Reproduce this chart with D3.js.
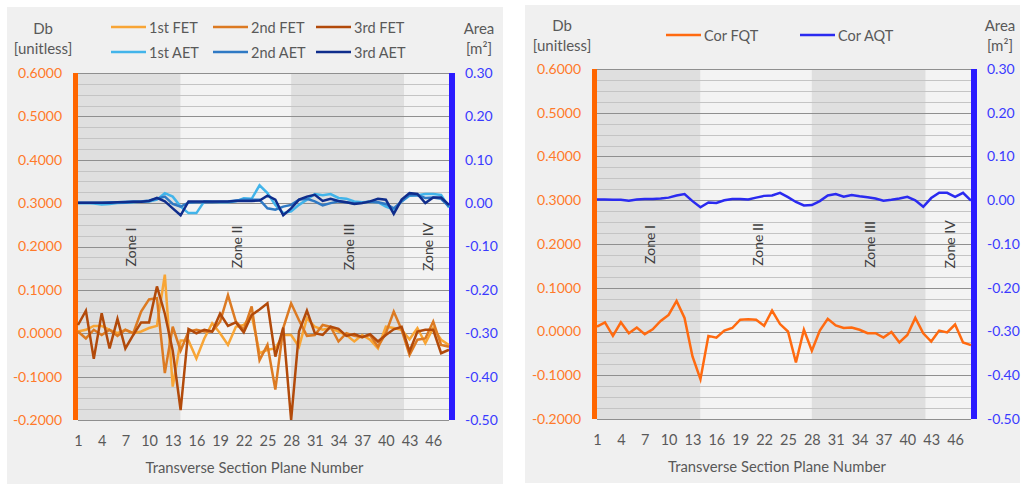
<!DOCTYPE html>
<html><head><meta charset="utf-8">
<script src="https://cdn.jsdelivr.net/npm/d3@7"></script>
<style>body{margin:0;background:#fff;} text{font-family:Lato, "Liberation Sans", sans-serif;}</style>
</head><body><svg id="c" width="1021" height="485"></svg>
<script>
// ---------- data ----------
const planes = [1,2,3,4,5,6,7,8,9,10,11,12,13,14,15,16,17,18,19,20,21,22,23,24,25,26,27,28,29,30,31,32,33,34,35,36,37,38,39,40,41,42,43,44,45,46,47,48];
const xTickLabels = [1,4,7,10,13,16,19,22,25,28,31,34,37,40,43,46];
const dbTicks = [0.6,0.5,0.4,0.3,0.2,0.1,0.0,-0.1,-0.2];
const areaTicks = [0.3,0.2,0.1,0.0,-0.1,-0.2,-0.3,-0.4,-0.5];
const zoneNames = ["Zone I","Zone II","Zone III","Zone IV"];
const zoneEdges = [1,14,28,42.3,48];

const fet1 = [0.004,0.008,0.017,0.017,0.008,0.000,0.008,0.000,0.004,0.012,0.017,0.135,-0.123,-0.017,-0.017,-0.058,-0.012,0.023,0.000,-0.027,0.015,0.019,0.042,-0.046,-0.038,-0.035,-0.004,-0.004,-0.031,0.035,0.015,0.008,0.012,0.004,-0.004,-0.019,-0.004,-0.015,-0.035,0.015,0.012,0.008,-0.014,0.012,-0.023,0.012,-0.015,-0.027];
const fet2 = [0.004,-0.012,0.008,-0.004,0.008,-0.006,0.008,0.000,0.050,0.078,0.081,-0.092,0.015,-0.040,0.004,0.008,0.004,0.004,0.027,0.088,0.027,0.008,0.062,-0.062,-0.027,-0.130,0.012,0.069,0.030,-0.006,-0.004,0.019,0.015,-0.019,0.000,-0.006,-0.009,-0.004,-0.031,0.000,0.050,0.008,-0.050,-0.015,-0.012,0.027,-0.027,-0.031];
const fet3 = [0.019,0.052,-0.059,0.046,-0.035,0.033,-0.035,-0.004,0.025,0.025,0.108,0.045,-0.040,-0.177,0.010,0.000,0.008,0.004,0.045,0.017,0.025,0.002,0.042,0.055,0.069,-0.054,0.013,-0.200,0.004,0.052,0.000,-0.004,0.015,0.010,-0.006,-0.002,-0.009,-0.002,-0.019,-0.004,0.009,0.015,-0.042,0.004,0.008,0.008,-0.046,-0.038];
const aet1 = [0.000,0.000,-0.001,-0.003,-0.002,0.000,0.001,0.002,0.003,0.004,0.008,0.023,0.015,-0.008,-0.023,-0.023,0.004,0.003,0.002,0.002,0.004,0.011,0.010,0.041,0.023,-0.004,-0.023,-0.019,-0.004,0.008,0.021,0.018,0.021,0.012,0.010,0.004,0.002,0.003,0.002,-0.008,-0.015,0.004,0.017,0.018,0.021,0.021,0.019,-0.010];
const aet2 = [0.001,0.001,0.001,0.001,0.002,0.002,0.003,0.004,0.004,0.006,0.010,0.015,-0.002,-0.008,0.001,0.002,0.002,0.002,0.003,0.004,0.006,0.008,0.008,0.008,-0.012,-0.015,-0.008,-0.004,0.008,0.010,0.004,-0.005,0.000,0.004,0.002,0.000,0.001,0.004,0.002,-0.002,-0.012,0.004,0.019,0.018,0.012,0.013,0.010,-0.008];
const aet3 = [0.001,0.001,0.001,0.001,0.001,0.002,0.002,0.003,0.003,0.005,0.012,0.004,-0.012,-0.028,0.004,0.004,0.004,0.004,0.004,0.004,0.005,0.005,0.005,0.006,0.017,0.008,-0.028,-0.012,0.008,0.015,0.019,0.005,0.010,0.005,0.002,-0.002,0.000,0.004,0.010,0.008,-0.025,0.008,0.023,0.021,0.000,0.013,0.013,-0.004];
const corFQT = [0.011,0.021,-0.010,0.021,-0.004,0.009,-0.006,0.005,0.024,0.038,0.070,0.031,-0.057,-0.109,-0.010,-0.014,0.002,0.008,0.027,0.028,0.027,0.013,0.048,0.017,0.000,-0.071,0.004,-0.044,0.002,0.029,0.014,0.008,0.009,0.004,-0.004,-0.004,-0.014,-0.001,-0.025,-0.008,0.031,-0.004,-0.023,0.002,-0.002,0.016,-0.025,-0.031];
const corAQT = [0.0015,0.0015,0.001,0.001,-0.001,0.0015,0.003,0.003,0.004,0.006,0.011,0.014,-0.002,-0.016,-0.005,-0.006,0.000,0.003,0.003,0.002,0.006,0.010,0.011,0.017,0.007,-0.004,-0.012,-0.011,-0.002,0.011,0.014,0.008,0.012,0.009,0.007,0.004,-0.001,0.001,0.004,0.008,0.000,-0.015,0.005,0.017,0.017,0.008,0.017,-0.001];

const svg = d3.select('#c');
const fmtL = v => (v < 0 ? '-' : '') + Math.abs(v).toFixed(4);
const fmtR = v => (v < 0 ? '-' : '') + Math.abs(v).toFixed(2);

function panel(o){
  const g = svg.append('g');
  g.append('rect').attr('x',o.px).attr('y',o.py).attr('width',o.pw).attr('height',o.ph).attr('fill','#f0f0f0');
  const x = d3.scaleLinear().domain([planes[0], planes[planes.length-1]]).range([o.l, o.r]);
  const yL = d3.scaleLinear().domain([-0.2,0.6]).range([o.b, o.t]);
  const yR = d3.scaleLinear().domain([-0.5,0.3]).range([o.b, o.t]);
  // zones
  zoneNames.forEach((z,i)=>{
    g.append('rect').attr('x',x(zoneEdges[i])).attr('y',o.t)
      .attr('width',x(zoneEdges[i+1])-x(zoneEdges[i])).attr('height',o.b-o.t)
      .attr('fill', i%2===0 ? '#dfdfdf' : '#f3f3f3');
  });
  // gridlines
  const minor = d3.range(0,33).map(k => -0.2 + k*0.025);
  g.selectAll('.mn').data(minor).enter().append('line')
    .attr('x1',o.l).attr('x2',o.r).attr('y1',d=>Math.round(yL(d))+0.5).attr('y2',d=>Math.round(yL(d))+0.5)
    .attr('stroke','#c4c4c4').attr('stroke-width',1);
  g.selectAll('.mj').data(dbTicks).enter().append('line')
    .attr('x1',o.l).attr('x2',o.r).attr('y1',d=>Math.round(yL(d))+0.5).attr('y2',d=>Math.round(yL(d))+0.5)
    .attr('stroke','#8f8f8f').attr('stroke-width',1);
  // zone labels
  zoneNames.forEach((z,i)=>{
    const cx = (x(zoneEdges[i])+x(zoneEdges[i+1]))/2;
    g.append('text').attr('transform',`translate(${cx+1},${o.zy}) rotate(-90)`)
      .attr('text-anchor','middle').attr('dominant-baseline','central')
      .attr('fill','#404040').style('font-size','14px').text(z);
  });
  // axis bars
  g.append('rect').attr('x',o.l-5).attr('y',o.t).attr('width',5).attr('height',o.b-o.t).attr('fill','#ff6600');
  g.append('rect').attr('x',o.r).attr('y',o.t).attr('width',6).attr('height',o.b-o.t).attr('fill','#2b1bff');
  // series
  o.series.forEach(s=>{
    const y = s.axis==='L' ? yL : yR;
    g.append('path').datum(s.values)
      .attr('d', d3.line().x((d,i)=>x(planes[i])).y(d=>y(d)))
      .attr('fill','none').attr('stroke',s.color).attr('stroke-width',2.5).attr('stroke-linejoin','miter');
  });
  // axes
  const aL = g.append('g').attr('transform',`translate(${o.l},0)`)
    .call(d3.axisLeft(yL).tickValues(dbTicks).tickFormat(fmtL).tickSize(0).tickPadding(16));
  aL.select('.domain').remove();
  aL.selectAll('text').attr('fill','#ff7a2a').style('font-size','14px').style('font-family','Lato');
  const aR = g.append('g').attr('transform',`translate(${o.r},0)`)
    .call(d3.axisRight(yR).tickValues(areaTicks).tickFormat(fmtR).tickSize(0).tickPadding(16));
  aR.select('.domain').remove();
  aR.selectAll('text').attr('fill','#3a3aff').style('font-size','14px').style('font-family','Lato');
  const aB = g.append('g').attr('transform',`translate(0,${o.b})`)
    .call(d3.axisBottom(x).tickValues(xTickLabels).tickFormat(d=>d).tickSize(0).tickPadding(16));
  aB.select('.domain').remove();
  aB.selectAll('text').attr('fill','#595959').style('font-size','14.5px').style('font-family','Lato');
  // bottom axis line
  g.append('line').attr('x1',o.l).attr('x2',o.r).attr('y1',o.b+0.5).attr('y2',o.b+0.5).attr('stroke','#8f8f8f');
  // titles
  g.append('text').attr('x',(o.l+o.r)/2 + o.xo).attr('y',o.xt).attr('text-anchor','middle')
    .attr('fill','#595959').style('font-size','14.8px').text('Transverse Section Plane Number');
  const tt = (tx,ty,s)=> g.append('text').attr('x',tx).attr('y',ty).attr('text-anchor','middle')
    .attr('dominant-baseline','central').attr('fill','#595959').style('font-size','15px').text(s);
  tt(o.lt, o.ty, 'Db'); tt(o.lt, o.ty+20, '[unitless]');
  tt(o.rt, o.ty, 'Area'); tt(o.rt, o.ty+20, '[m²]');
  // legend
  o.legend.forEach(it=>{
    g.append('line').attr('x1',it.x).attr('x2',it.x+35).attr('y1',it.y).attr('y2',it.y)
      .attr('stroke',it.color).attr('stroke-width',2.5);
    g.append('text').attr('x',it.x+38).attr('y',it.y).attr('dominant-baseline','central')
      .attr('fill','#595959').style('font-size','14.5px').text(it.name);
  });
}

const cFet1='#f8a535', cFet2='#dc7a22', cFet3='#b24a0a', cAet1='#42b4ea', cAet2='#2f79c4', cAet3='#0f2d8c';
panel({px:7,py:7,pw:496,ph:477,l:78,r:449,t:73,b:420,zy:247,xt:473,xo:-9,lt:43,rt:479,ty:28,
  series:[{values:fet1,color:cFet1,axis:'L'},{values:fet2,color:cFet2,axis:'L'},{values:fet3,color:cFet3,axis:'L'},
          {values:aet1,color:cAet1,axis:'R'},{values:aet2,color:cAet2,axis:'R'},{values:aet3,color:cAet3,axis:'R'}],
  legend:[{x:111,y:27,color:cFet1,name:'1st FET'},{x:213,y:27,color:cFet2,name:'2nd FET'},{x:316,y:27,color:cFet3,name:'3rd FET'},
          {x:111,y:52,color:cAet1,name:'1st AET'},{x:213,y:52,color:cAet2,name:'2nd AET'},{x:316,y:52,color:cAet3,name:'3rd AET'}]
});
panel({px:525,py:5,pw:495,ph:478,l:597,r:971,t:69,b:419,zy:244.5,xt:471.5,xo:-7,lt:562,rt:1000,ty:25,
  series:[{values:corFQT,color:'#ff6a10',axis:'L'},{values:corAQT,color:'#2a2af0',axis:'R'}],
  legend:[{x:666,y:35,color:'#ff6a10',name:'Cor FQT'},{x:800,y:35,color:'#2a2af0',name:'Cor AQT'}]
});
</script></body></html>
